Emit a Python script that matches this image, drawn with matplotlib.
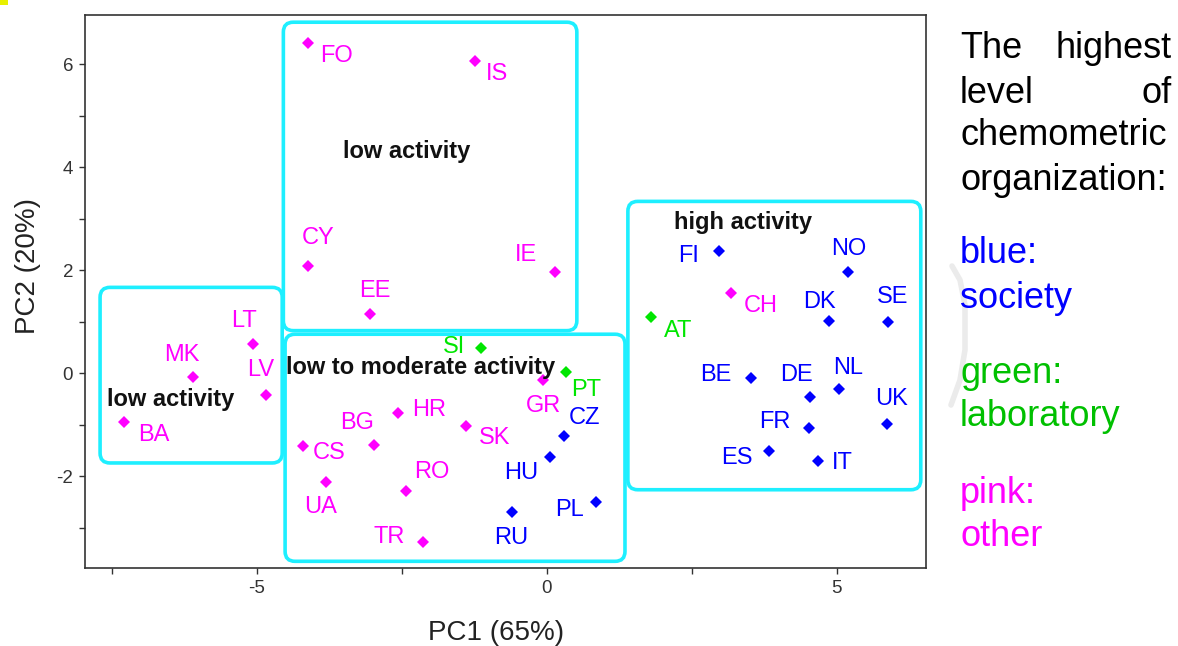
import matplotlib
matplotlib.use("Agg")
import matplotlib.pyplot as plt
from matplotlib.patches import FancyBboxPatch, Rectangle
from matplotlib.lines import Line2D
from matplotlib.ticker import FixedLocator, FuncFormatter

plt.rcParams['font.family'] = ['Liberation Sans', 'DejaVu Sans']

# PCA scores
countries = ['FO', 'IS', 'CY', 'IE', 'EE', 'LT', 'MK', 'LV', 'BA',
             'SI', 'PT', 'GR', 'HR', 'SK', 'CZ', 'BG', 'CS', 'HU',
             'UA', 'RO', 'RU', 'TR', 'PL',
             'FI', 'NO', 'CH', 'AT', 'DK', 'SE', 'BE', 'NL', 'DE',
             'UK', 'FR', 'ES', 'IT']
pc1 = [-4.11, -1.24, -4.11, 0.14, -3.04, -5.06, -6.09, -4.84, -7.28,
       -1.14, 0.33, -0.07, -2.56, -1.39, 0.29, -2.97, -4.21, 0.06,
       -3.81, -2.43, -0.60, -2.13, 0.85,
       2.97, 5.20, 3.18, 1.79, 4.86, 5.88, 3.52, 5.04, 4.54,
       5.86, 4.52, 3.83, 4.67]
pc2 = [6.42, 6.07, 2.09, 1.97, 1.15, 0.58, -0.07, -0.42, -0.95,
       0.49, 0.03, -0.13, -0.77, -1.02, -1.21, -1.39, -1.42, -1.63,
       -2.11, -2.28, -2.69, -3.28, -2.49,
       2.38, 1.97, 1.56, 1.09, 1.02, 0.99, -0.09, -0.30, -0.45,
       -0.98, -1.06, -1.51, -1.70]
# highest level of organization: society / laboratory / other
group = ['other', 'other', 'other', 'other', 'other', 'other', 'other', 'other', 'other',
         'laboratory', 'laboratory', 'other', 'other', 'other', 'society', 'other', 'other', 'society',
         'other', 'other', 'society', 'other', 'society',
         'society', 'society', 'other', 'laboratory', 'society', 'society', 'society', 'society', 'society',
         'society', 'society', 'society', 'society']

# activity clusters (x0, y0, x1, y1) and their captions
clusters = [(-4.54, 0.83, 0.52, 6.82), (-7.70, -1.74, -4.56, 1.67),
            (-4.51, -3.65, 1.35, 0.76), (1.40, -2.26, 6.45, 3.34)]
cluster_names = ['low activity', 'low activity', 'low to moderate activity', 'high activity']
cluster_text_xy = [(-2.42, 4.31), (-6.49, -0.50), (-4.50, 0.11), (3.39, 2.93)]
cluster_text_ha = ['center', 'center', 'left', 'center']

colors = {'society': '#0000FF', 'laboratory': '#00E600', 'other': '#FF00FF'}

# label offsets from marker, pixels (right, down)
offsets = {
    'FO': (28, 13), 'IS': (22, 13), 'CY': (10, -28), 'IE': (-29, -17), 'EE': (5, -23),
    'LT': (-9, -23), 'MK': (-12, -22), 'LV': (-5, -25), 'BA': (29, 13), 'SI': (-27, -1),
    'PT': (20, 18), 'GR': (1, 26), 'HR': (31, -3), 'SK': (29, 12), 'CZ': (21, -18),
    'BG': (-17, -22), 'CS': (27, 7), 'HU': (-29, 16), 'UA': (-5, 25), 'RO': (26, -19),
    'RU': (-1, 26), 'TR': (-34, -5), 'PL': (-26, 8), 'FI': (-30, 5), 'NO': (0, -23),
    'CH': (30, 13), 'AT': (28, 14), 'DK': (-9, -19), 'SE': (5, -25), 'BE': (-35, -3),
    'NL': (9, -21), 'DE': (-14, -22), 'UK': (5, -25), 'FR': (-34, -6), 'ES': (-32, 7),
    'IT': (25, 2),
}

fig = plt.figure(figsize=(11.78, 6.46), dpi=100)
W, H = 1178, 646

# faint grey stroke left behind on the slide
fig.lines.append(Line2D([952 / W, 960 / W, 965 / W, 965 / W, 960 / W, 951 / W],
                        [1 - 266 / H, 1 - 280 / H, 1 - 305 / H, 1 - 350 / H, 1 - 380 / H, 1 - 405 / H],
                        transform=fig.transFigure, color='#EBEBEB', linewidth=4,
                        solid_capstyle='round', zorder=0))

ax = fig.add_axes([85 / W, 1 - 568 / H, 841 / W, 553 / H])
ax.set_xlim(-7.96, 6.54)
ax.set_ylim(-3.78, 6.96)

for (x0, y0, x1, y1) in clusters:
    box = FancyBboxPatch((x0, y0), x1 - x0, y1 - y0,
                         boxstyle='round,pad=0,rounding_size=0.17',
                         mutation_aspect=1.126, fill=False,
                         edgecolor='#1EEFFF', linewidth=2.6, zorder=1)
    ax.add_patch(box)

for name, (tx, ty), ha in zip(cluster_names, cluster_text_xy, cluster_text_ha):
    ax.text(tx, ty, name, ha=ha, va='center', fontsize=17, fontweight='bold',
            color='#111111', zorder=4)

for c, x, y, g in zip(countries, pc1, pc2, group):
    col = colors[g]
    ax.plot(x, y, 'D', color=col, markersize=6.2, markeredgewidth=0, zorder=3)
    dx, dy = offsets[c]
    ax.annotate(c, (x, y), xytext=(dx, -dy), textcoords='offset pixels',
                ha='center', va='center', fontsize=17, color=col, zorder=3)

ax.xaxis.set_major_locator(FixedLocator([-7.5, -5, -2.5, 0, 2.5, 5]))
ax.xaxis.set_major_formatter(FuncFormatter(lambda v, p: '%d' % v if v % 5 == 0 else ''))
ax.yaxis.set_major_locator(FixedLocator(range(-3, 7)))
ax.yaxis.set_major_formatter(FuncFormatter(lambda v, p: '%d' % v if v % 2 == 0 else ''))
ax.tick_params(direction='out', length=4.5, width=1, color='#333333',
               labelsize=13.5, labelcolor='#333333', pad=4)
for s in ax.spines.values():
    s.set_color('#333333')
    s.set_linewidth(1.2)

ax.set_xlabel('PC1 (65%)', fontsize=20, color='#222222')
ax.set_ylabel('PC2 (20%)', fontsize=20, color='#222222')
ax.xaxis.set_label_coords(0.489, -0.1175)
ax.yaxis.set_label_coords(-0.068, 0.546)
ax.xaxis.label.set_va('center')
ax.yaxis.label.set_va('center')

# side note, justified like the slide
fs = 26
fig.text(960 / W, 1 - 58 / H, 'The', fontsize=fs, ha='left', va='baseline')
fig.text(1172 / W, 1 - 58 / H, 'highest', fontsize=fs, ha='right', va='baseline')
fig.text(960 / W, 1 - 103 / H, 'level', fontsize=fs, ha='left', va='baseline')
fig.text(1172 / W, 1 - 103 / H, 'of', fontsize=fs, ha='right', va='baseline')
fig.text(960 / W, 1 - 145 / H, 'chemometric', fontsize=fs, ha='left', va='baseline')
fig.text(960 / W, 1 - 190 / H, 'organization:', fontsize=fs, ha='left', va='baseline')
fig.text(960 / W, 1 - 263 / H, 'blue:', fontsize=fs, color='#0000FF', va='baseline')
fig.text(960 / W, 1 - 308 / H, 'society', fontsize=fs, color='#0000FF', va='baseline')
fig.text(960 / W, 1 - 383 / H, 'green:', fontsize=fs, color='#00C000', va='baseline')
fig.text(960 / W, 1 - 426 / H, 'laboratory', fontsize=fs, color='#00C000', va='baseline')
fig.text(960 / W, 1 - 503 / H, 'pink:', fontsize=fs, color='#FF00FF', va='baseline')
fig.text(960 / W, 1 - 546 / H, 'other', fontsize=fs, color='#FF00FF', va='baseline')

# little yellow slide marker in the corner
fig.patches.append(Rectangle((0, 1 - 5 / H), 8 / W, 5 / H, transform=fig.transFigure,
                             facecolor='#E8F000', edgecolor='none'))

fig.savefig('out.png', dpi=100)
